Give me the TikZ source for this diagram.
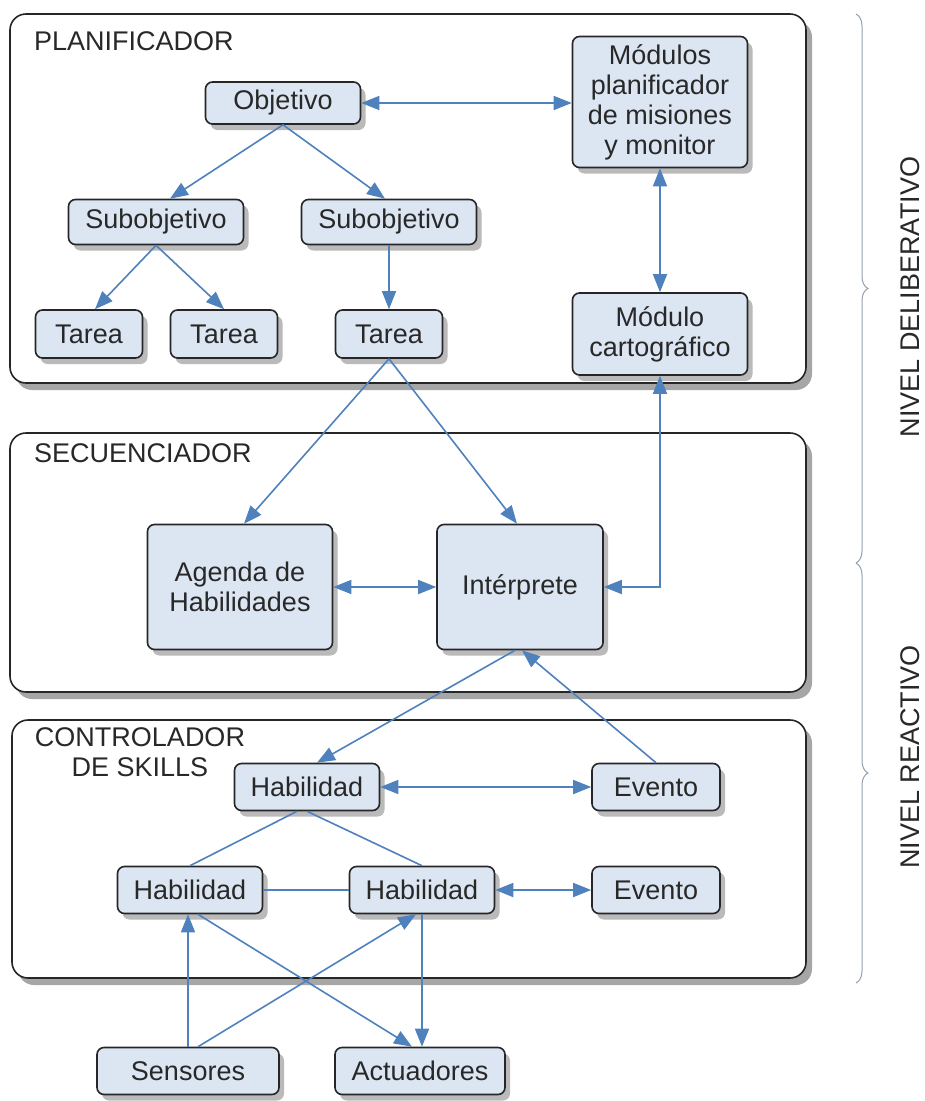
\documentclass[tikz,border=0pt]{standalone}
\usepackage{fontspec}
\setmainfont{Liberation Sans}
\usetikzlibrary{arrows.meta,shadows,decorations.pathreplacing}
\definecolor{boxfill}{RGB}{220,230,242}
\definecolor{linkblue}{RGB}{79,129,189}
\definecolor{txt}{RGB}{40,40,40}
\begin{document}
\begin{tikzpicture}[x=1pt, y=-1pt, font=\fontsize{27}{30}\selectfont, text=txt,
    panel/.style={draw=black!85, line width=1.6pt, rounded corners=16pt, fill=white,
      drop shadow={shadow xshift=6pt, shadow yshift=-7pt, fill=black!50, opacity=0.7}},
    blk/.style={draw=black!85, line width=1.6pt, rounded corners=7pt, fill=boxfill,
      align=center, inner sep=0pt,
      drop shadow={shadow xshift=5pt, shadow yshift=-6pt, fill=black!45, opacity=0.6}},
    lbl/.style={anchor=west, inner sep=0pt},
    arr/.style={linkblue, line width=1.6pt, >={Triangle[length=18pt,width=14pt]}},
    link/.style={linkblue, line width=1.6pt},
    lvl/.style={linkblue!50!black!50, line width=1pt, decorate, decoration={brace, amplitude=12pt}}]
  \useasboundingbox (0,0) rectangle (925,1101);
  % the three layers
  \draw[panel] (10,14) rectangle (806,383);
  \draw[panel] (10,433) rectangle (806,692);
  \draw[panel] (12,720) rectangle (806,978);
  \node[lbl] (planlbl) at (34,41) {PLANIFICADOR};
  \node[lbl] (seclbl) at (34,453) {SECUENCIADOR};
  \node[align=center, inner sep=0pt] (ctrllbl) at (140,752) {CONTROLADOR\\DE SKILLS};

  % planificador
  \node[blk, minimum width=155, minimum height=42] (obj) at (283,103) {Objetivo};
  \node[blk, minimum width=175, minimum height=45] (sub1) at (156,222) {Subobjetivo};
  \node[blk, minimum width=175, minimum height=45] (sub2) at (389,222) {Subobjetivo};
  \foreach \n/\x in {t1/89, t2/224, t3/389}
    \node[blk, minimum width=107, minimum height=48] (\n) at (\x,334) {Tarea};
  \node[blk, minimum width=175, minimum height=131] (mod) at (660,102)
    {Módulos\\planificador\\de misiones\\y monitor};
  \node[blk, minimum width=175, minimum height=82] (carto) at (660,334) {Módulo\\cartográfico};

  % secuenciador
  \node[blk, minimum width=185, minimum height=125] (agenda) at (240,587) {Agenda de\\Habilidades};
  \node[blk, minimum width=166, minimum height=125] (interp) at (520,587) {Intérprete};

  % controlador de skills
  \node[blk, minimum width=145, minimum height=47] (hab0) at (307,787) {Habilidad};
  \node[blk, minimum width=128, minimum height=47] (ev0) at (656,787) {Evento};
  \node[blk, minimum width=145, minimum height=47] (hab1) at (190,890) {Habilidad};
  \node[blk, minimum width=145, minimum height=47] (hab2) at (422,890) {Habilidad};
  \node[blk, minimum width=128, minimum height=47] (ev1) at (656,890) {Evento};
  \node[blk, minimum width=182, minimum height=47] (sens) at (188,1071) {Sensores};
  \node[blk, minimum width=170, minimum height=47] (act) at (420,1071) {Actuadores};

  \draw[arr, <->] (obj.east) -- (obj.east -| mod.west);
  \draw[arr, ->] (obj.south) -- ([xshift=14pt]sub1.north);
  \draw[arr, ->] (obj.south) -- ([xshift=-4pt]sub2.north);
  \draw[arr, ->] (sub1.south) -- ([xshift=6pt]t1.north);
  \draw[arr, ->] (sub1.south) -- (t2.north);
  \draw[arr, ->] (sub2) -- (t3);
  \draw[arr, <->] (mod) -- (carto);
  \draw[arr, ->] (t3.south) -- ([xshift=4pt]agenda.north);
  \draw[arr, ->] (t3.south) -- ([xshift=-3pt]interp.north);
  \draw[arr, <->] (agenda) -- (interp);
  \draw[arr, <->] (interp.east) -| (carto.south);
  \draw[arr, ->] ([xshift=-5pt]interp.south) -- ([xshift=10pt]hab0.north);
  \draw[arr, ->] (ev0.north) -- ([xshift=2pt]interp.south);
  \draw[arr, <->] (hab0) -- (ev0);
  \draw[link] ([xshift=-10pt]hab0.south) -- (hab1.north);
  \draw[link] (hab0.south) -- (hab2.north);
  \draw[link] (hab1) -- (hab2);
  \draw[arr, <->] (hab2) -- (ev1);
  \draw[arr, ->] (sens.north) -- (sens.north |- hab1.south);
  \draw[arr, ->] ([xshift=10pt]sens.north) -- ([xshift=-6pt]hab2.south);
  \draw[arr, ->] ([xshift=8pt]hab1.south) -- ([xshift=-8pt]act.north);
  \draw[arr, ->] (hab2.south) -- (hab2.south |- act.north);

  % niveles
  \draw[lvl] (856,14) -- (856,563);
  \draw[lvl] (856,563) -- (856,983);
  \node[rotate=90] (delib) at (910,297) {NIVEL DELIBERATIVO};
  \node[rotate=90] (react) at (910,757) {NIVEL REACTIVO};
\end{tikzpicture}
\end{document}
